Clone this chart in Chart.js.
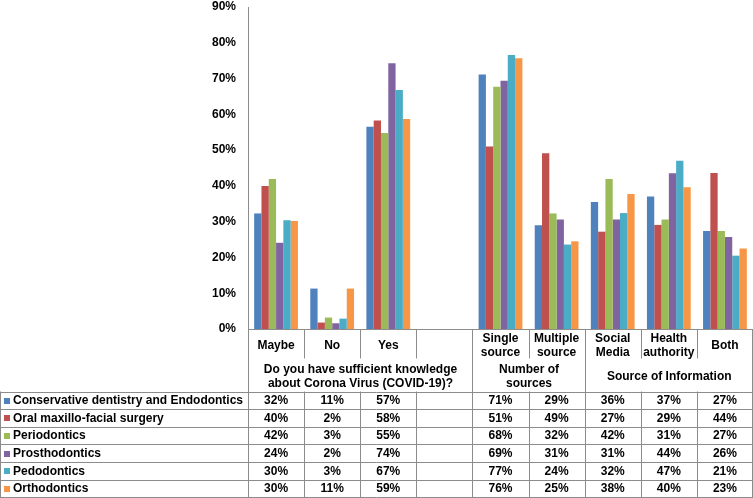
<!DOCTYPE html>
<html>
<head>
<meta charset="utf-8">
<script src="https://cdn.jsdelivr.net/npm/chart.js@4/dist/chart.umd.min.js"></script>
<style>
html,body{margin:0;padding:0;background:#fff;}
#wrap{width:753px;height:498px;position:relative;}
</style>
</head>
<body>
<div id="wrap"><canvas id="c" width="753" height="498"></canvas></div>
<script>
// ---- data ----
const categories = [['Maybe'], ['No'], ['Yes'], [''], ['Single', 'source'], ['Multiple', 'source'], ['Social', 'Media'], ['Health', 'authority'], ['Both']];
const groupLabels = [['Do you have sufficient knowledge', 'about Corona Virus (COVID-19)?'], ['Number of', 'sources'], ['Source of Information']];
const groupSpans = [4, 2, 3];
const seriesNames = ['Conservative dentistry and Endodontics', 'Oral maxillo-facial surgery', 'Periodontics', 'Prosthodontics', 'Pedodontics', 'Orthodontics'];
const conservative = [32.3, 11.3, 56.5, null, 71.1, 29.0, 35.5, 37.0, 27.4];
const oralSurgery  = [40.0, 1.8, 58.3, null, 51.0, 49.1, 27.2, 29.1, 43.6];
const periodontics = [41.9, 3.2, 54.8, null, 67.7, 32.3, 41.9, 30.6, 27.4];
const prosthodontics = [24.1, 1.6, 74.3, null, 69.4, 30.6, 30.6, 43.5, 25.7];
const pedodontics  = [30.4, 2.9, 66.8, null, 76.6, 23.6, 32.4, 47.0, 20.5];
const orthodontics = [30.2, 11.3, 58.7, null, 75.7, 24.5, 37.7, 39.6, 22.5];
const yTicks = [0, 10, 20, 30, 40, 50, 60, 70, 80, 90];

const seriesValues = [conservative, oralSurgery, periodontics, prosthodontics, pedodontics, orthodontics];
const colors = ['#4F81BD', '#C0504D', '#9BBB59', '#8064A2', '#4BACC6', '#F79646'];
const FONT = 'bold 12px "Liberation Sans", Arial, sans-serif';
const LINE = '#8c8c8c';

const tablePlugin = {
  id: 'dataTable',
  afterDraw(chart) {
    const ctx = chart.ctx;
    const area = chart.chartArea;
    const xs = chart.scales.x;
    const n = categories.length;
    const colW = (area.right - area.left) / n;
    const edge = i => Math.round(xs.getPixelForValue(0) - colW / 2 + i * colW) + 0.5;
    const top = Math.round(area.bottom) + 0.5;
    const row1End = top + 29;
    const rowTop = 391.5;
    const rowH = 17.6;
    const bottom = rowTop + rowH * seriesNames.length;
    const W = chart.width;

    const full = new Set([0, n]);
    let acc = 0;
    groupSpans.forEach(s => { acc += s; full.add(acc); });

    ctx.save();
    ctx.strokeStyle = LINE;
    ctx.lineWidth = 1;
    ctx.beginPath();
    for (let i = 0; i <= n; i++) {
      const x = i === n ? Math.min(edge(i), W - 0.5) : edge(i);
      if (full.has(i)) {
        ctx.moveTo(x, top); ctx.lineTo(x, bottom);
      } else {
        ctx.moveTo(x, top); ctx.lineTo(x, row1End);
        ctx.moveTo(x, rowTop); ctx.lineTo(x, bottom);
      }
    }
    for (let r = 0; r <= seriesNames.length; r++) {
      const y = Math.round(rowTop + r * rowH) + 0.5;
      ctx.moveTo(0, y); ctx.lineTo(W, y);
    }
    ctx.moveTo(0.5, rowTop); ctx.lineTo(0.5, bottom);
    ctx.stroke();

    ctx.fillStyle = '#000';
    ctx.font = FONT;
    ctx.textAlign = 'center';
    ctx.textBaseline = 'middle';
    categories.forEach((lines, i) => {
      const cx = xs.getPixelForValue(i);
      const cy = top + 16;
      lines.forEach((t, k) => {
        ctx.fillText(t, cx, cy + (k - (lines.length - 1) / 2) * 14);
      });
    });
    let start = 0;
    groupLabels.forEach((lines, g) => {
      const l = edge(start), r = Math.min(edge(start + groupSpans[g]), W);
      const cx = (l + r) / 2;
      const cy = 376.5;
      lines.forEach((t, k) => {
        ctx.fillText(t, cx, cy + (k - (lines.length - 1) / 2) * 13.5);
      });
      start += groupSpans[g];
    });
    seriesNames.forEach((name, r) => {
      const cy = rowTop + r * rowH + rowH / 2 + 0.5;
      ctx.fillStyle = colors[r];
      ctx.fillRect(4, Math.round(cy - 3), 6, 6);
      ctx.fillStyle = '#000';
      ctx.textAlign = 'left';
      ctx.fillText(name, 13, cy);
      ctx.textAlign = 'center';
      seriesValues[r].forEach((v, i) => {
        if (v === null) return;
        ctx.fillText(Math.round(v) + '%', xs.getPixelForValue(i), cy);
      });
    });
    ctx.restore();
  }
};

new Chart(document.getElementById('c'), {
  type: 'bar',
  data: {
    labels: categories.map(c => c.join(' ')),
    datasets: seriesNames.map((name, i) => ({
      label: name,
      data: seriesValues[i],
      backgroundColor: colors[i],
      borderWidth: 0,
      categoryPercentage: 0.78,
      barPercentage: 1.0
    }))
  },
  options: {
    responsive: false,
    animation: false,
    devicePixelRatio: 1,
    layout: { padding: { top: 0, right: 0, bottom: 169, left: 0 } },
    plugins: { legend: { display: false }, tooltip: { enabled: false } },
    scales: {
      x: {
        ticks: { display: false },
        grid: { display: false, drawTicks: false },
        border: { display: true, color: LINE }
      },
      y: {
        min: 0, max: 90,
        afterBuildTicks(s) { s.ticks = yTicks.map(v => ({ value: v })); },
        ticks: {
          callback: v => v + '%',
          color: '#000',
          font: { family: '"Liberation Sans", Arial, sans-serif', size: 12, weight: 'bold' },
          padding: 12
        },
        grid: { display: false, drawTicks: false },
        border: { display: true, color: LINE },
        afterFit(s) { s.width = 248; s.paddingTop = 7; s.paddingBottom = 0; }
      }
    }
  },
  plugins: [tablePlugin]
});
</script>
</body>
</html>
